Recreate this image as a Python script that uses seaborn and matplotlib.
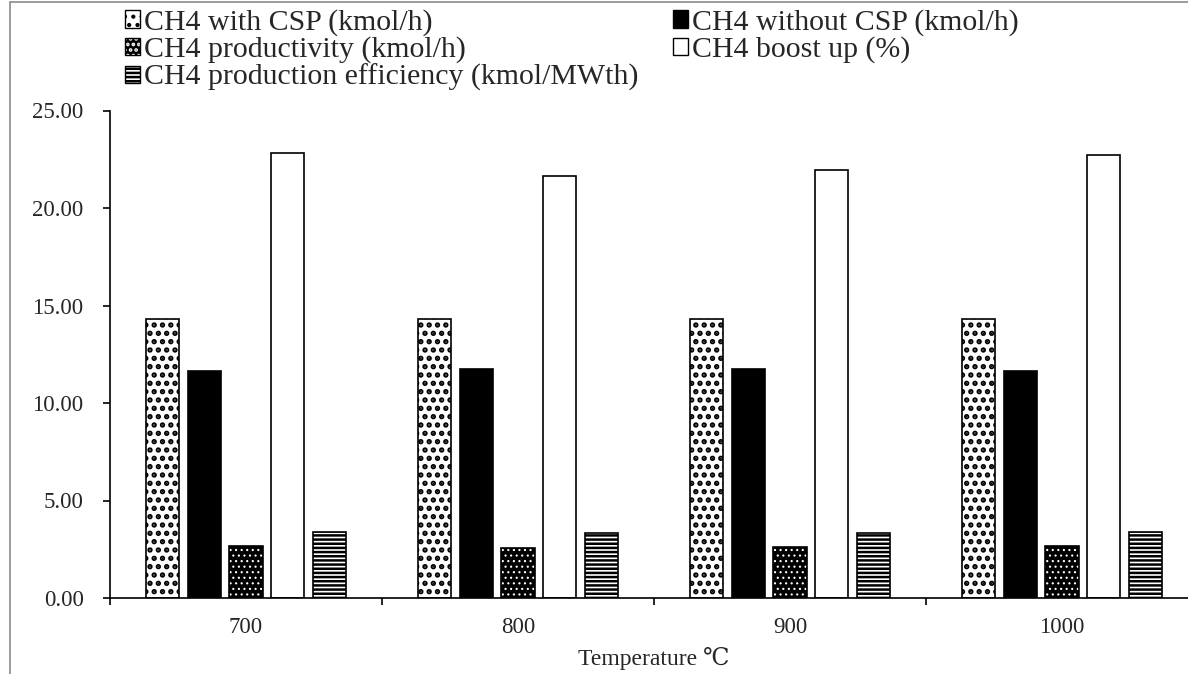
import numpy as np
import pandas as pd
import matplotlib
matplotlib.use("Agg")
import matplotlib.pyplot as plt
import seaborn as sns
from matplotlib.patches import Patch, Rectangle

# ---- data ----
temperatures = ["700", "800", "900", "1000"]
series_labels = [
    "CH4 with CSP (kmol/h)",
    "CH4 without CSP (kmol/h)",
    "CH4 productivity (kmol/h)",
    "CH4 boost up (%)",
    "CH4 production efficiency (kmol/MWth)",
]
ch4_with_csp = [14.30, 14.30, 14.30, 14.30]
ch4_without_csp = [11.66, 11.76, 11.72, 11.66]
ch4_productivity = [2.66, 2.56, 2.60, 2.66]
ch4_boost_up = [22.84, 21.66, 21.94, 22.72]
ch4_efficiency = [3.36, 3.32, 3.35, 3.40]
y_ticks = [0, 5, 10, 15, 20, 25]
x_label = "Temperature \u2103"

series_values = [ch4_with_csp, ch4_without_csp, ch4_productivity, ch4_boost_up, ch4_efficiency]
df = pd.DataFrame(
    [(t, s, v) for s, vals in zip(series_labels, series_values) for t, v in zip(temperatures, vals)],
    columns=["Temperature", "Series", "Value"],
)

# ---- style ----
sns.set_style("ticks")
plt.rcParams["font.family"] = ["Liberation Serif", "DejaVu Serif", "DejaVu Sans"]
plt.rcParams["hatch.linewidth"] = 1.8

# face, edge, hatch, hatch colour, hatch linewidth
styles = [
    ("white", "black", "..", "black", 2.6),
    ("black", "black", None, "black", 1.8),
    ("black", "black", "...", "white", 0.8),
    ("white", "black", None, "black", 1.8),
    ("white", "black", "----", "black", 1.8),
]


def apply_style(p, fc, ec, hatch, hc, hlw):
    p.set_facecolor(fc)
    p.set_edgecolor(ec)
    if hatch:
        p.set_hatch(hatch)
    p._hatch_color = matplotlib.colors.to_rgba(hc)
    if hasattr(p, "set_hatch_linewidth"):
        p.set_hatch_linewidth(hlw)


fig = plt.figure(figsize=(11.88, 6.74), dpi=100)
ax = fig.add_axes([110 / 1188, 1 - 598 / 674, (1198 - 110) / 1188, (598 - 110.5) / 674])

sns.barplot(
    data=df, x="Temperature", y="Value", hue="Series",
    order=temperatures, hue_order=series_labels,
    width=0.766, gap=0.2, legend=False, ax=ax, errorbar=None,
)

for cont, st in zip(ax.containers, styles):
    for p in cont.patches:
        apply_style(p, *st)
        p.set_linewidth(1.2)

ax.set_ylim(0, 25)
ax.set_xlim(-0.5, 3.5)
ax.set_yticks(y_ticks)
ax.set_yticklabels([f"{v:.2f}" for v in y_ticks])

# Excel-like category axis: ticks at boundaries, labels at centres
ax.set_xticks(np.arange(-0.5, len(temperatures), 1.0))
ax.set_xticklabels([])
ax.set_xticks(np.arange(len(temperatures)), minor=True)
ax.set_xticklabels(temperatures, minor=True)
ax.tick_params(axis="x", which="major", direction="out", length=5, width=1.2, color="black")
ax.tick_params(axis="x", which="minor", length=0, pad=14, labelsize=16.5)
ax.tick_params(axis="y", direction="out", length=5, width=1.2, pad=14, labelsize=16.5, color="black")

for side in ["top", "right"]:
    ax.spines[side].set_visible(False)
for side in ["left", "bottom"]:
    ax.spines[side].set_linewidth(1.2)
    ax.spines[side].set_color("black")

ax.set_xlabel(x_label, fontsize=17, labelpad=6)
ax.set_ylabel("")

# ---- legend ----
handles = []
for lab, st in zip(series_labels, styles):
    h = Patch(linewidth=1.0, label=lab)
    apply_style(h, *st)
    handles.append(h)

leg_kw = dict(loc="upper left", frameon=False, fontsize=21.5, handlelength=0.5,
              handleheight=0.5, handletextpad=0.15, labelspacing=0.02,
              borderpad=0, borderaxespad=0)
col1 = [0, 2, 4]
col2 = [1, 3]
leg1 = fig.legend([handles[i] for i in col1], [series_labels[i] for i in col1],
                  bbox_to_anchor=(125 / 1188, 1 - 9 / 674), **leg_kw)
leg2 = fig.legend([handles[i] for i in col2], [series_labels[i] for i in col2],
                  bbox_to_anchor=(673 / 1188, 1 - 9 / 674), **leg_kw)

# outer gray frame
fig.patches.append(Rectangle((10 / 1188, -0.05), 1.1, 1.05 - 2 / 674, transform=fig.transFigure,
                             fill=False, edgecolor="#8a8a8a", linewidth=1.2, zorder=-1))

fig.savefig("out.png", dpi=100)
